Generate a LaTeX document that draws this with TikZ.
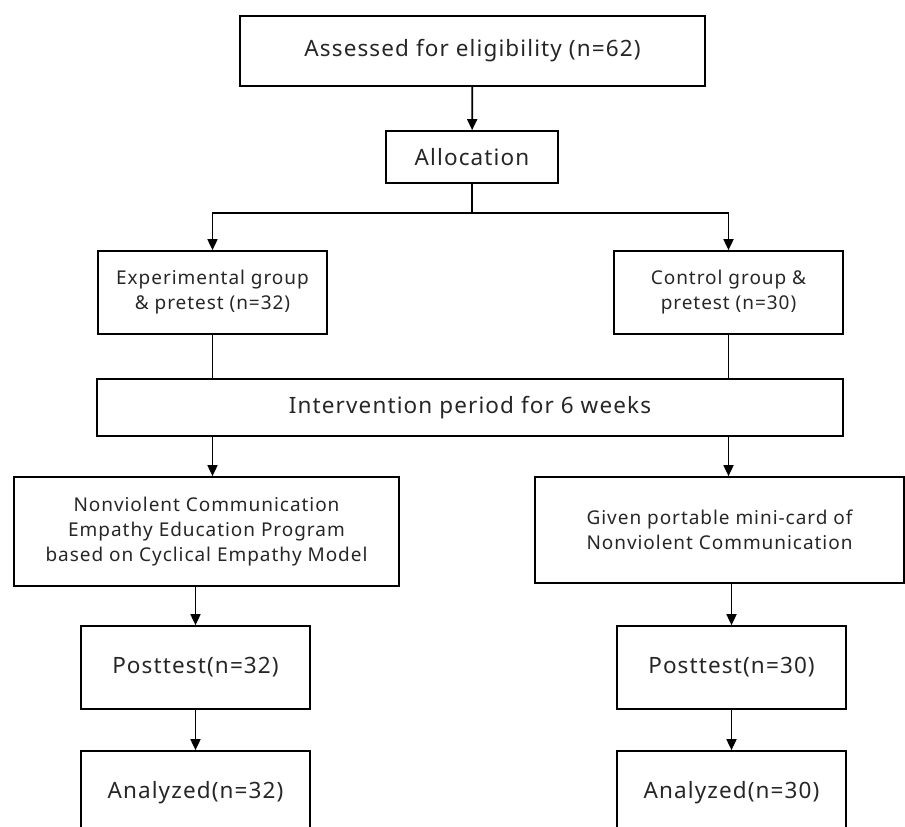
\documentclass[tikz,border=0pt]{standalone}
\usepackage{fontspec}
\setmainfont[LetterSpace=5]{Noto Sans}
\usetikzlibrary{arrows.meta}

\begin{document}
\begin{tikzpicture}[x=1pt, y=-1pt,
  every node/.style={rectangle, draw=black, line width=1.7pt, align=center, inner sep=0pt, text=black!85},
  big/.style={font=\fontsize{22.5}{28}\selectfont},
  small/.style={font=\fontsize{19}{25}\selectfont},
  arr/.style={-{Triangle[length=11pt,width=10pt]}, line width=1.7pt}]
			\useasboundingbox (0,0) rectangle (905,827);

			\node[big, minimum width=465pt, minimum height=70pt] (elig) at (472.5,51){Assessed for eligibility (n=62)};
			\node[big, minimum width=172pt, minimum height=52pt] (alloc) at (472,157){Allocation};
			\node[small, minimum width=229pt, minimum height=83pt] (exp) at (212.5,292.5){Experimental group\\ \& pretest (n=32)};
			\node[small, minimum width=229pt, minimum height=83pt] (ctrl) at (728.5,292.5){Control group \&\\ pretest (n=30)};
			\node[big, minimum width=746pt, minimum height=57pt] (interv) at (470,407.5){Intervention period for 6 weeks};
			\node[small, minimum width=385pt, minimum height=109pt] (nvc) at (206.5,531.5){Nonviolent Communication\\ Empathy Education Program\\ based on Cyclical Empathy Model};
			\node[small, minimum width=369pt, minimum height=106pt] (card) at (719.5,530){Given portable mini-card of\\ Nonviolent Communication};
			\node[big, minimum width=229pt, minimum height=83pt] (postE) at (195.5,667.5){Posttest(n=32)};
			\node[big, minimum width=229pt, minimum height=83pt] (postC) at (731.5,667.5){Posttest(n=30)};
			\node[big, minimum width=229pt, minimum height=84pt] (anaE) at (195.5,793){Analyzed(n=32)};
			\node[big, minimum width=229pt, minimum height=84pt] (anaC) at (731.5,793){Analyzed(n=30)};
			\coordinate (split) at (472,213);

			\path (elig) edge[arr] (alloc);
			\draw[line width=1.7pt] (alloc.south) -- (split);
			\draw[arr] (split) -| (exp.north);
			\draw[arr] (split) -| (ctrl.north);
			\path (exp.south) edge[line width=1.7pt] (exp.south |- interv.north);
			\path (ctrl.south) edge[line width=1.7pt] (ctrl.south |- interv.north);
			\path (exp.south |- interv.south) edge[arr] (exp.south |- nvc.north);
			\path (ctrl.south |- interv.south) edge[arr] (ctrl.south |- card.north);
			\path (postE.north |- nvc.south) edge[arr] (postE.north);
			\path (postC.north |- card.south) edge[arr] (postC.north);
			\path (postE) edge[arr] (anaE);
			\path (postC) edge[arr] (anaC);
			\end{tikzpicture}
\end{document}
